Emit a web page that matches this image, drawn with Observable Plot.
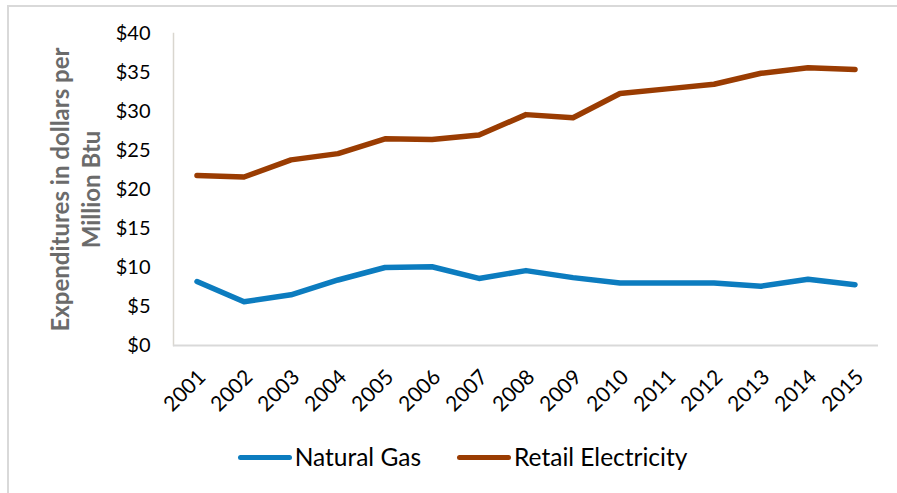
<!DOCTYPE html>
<html>
<head>
<meta charset="utf-8">
<script src="https://cdn.jsdelivr.net/npm/d3@7"></script>
<script src="https://cdn.jsdelivr.net/npm/@observablehq/plot@0.6"></script>
<style>
  html, body { margin: 0; padding: 0; background: #fff; }
  #chart {
    position: absolute; left: 7px; top: 5px; width: 900px; height: 500px;
    border-top: 2px solid #d9d9d9; border-left: 2px solid #d9d9d9;
    box-sizing: border-box;
  }
  #plot { position: absolute; left: -9px; top: -7px; }
  #legend {
    position: absolute; left: 5px; top: 435px; width: 897px;
    display: flex; justify-content: center; gap: 36px;
    font-family: Lato, sans-serif; font-size: 24.5px; color: #000;
  }
  .item { display: flex; align-items: center; }
  .swatch { width: 54px; height: 5px; border-radius: 3px; margin-right: 3px; margin-top: 2px; }
</style>
</head>
<body>
<div id="chart">
  <div id="plot"></div>
  <div id="legend"></div>
</div>
<script>
// Residential energy expenditures, dollars per million Btu
const years = ["2001","2002","2003","2004","2005","2006","2007","2008","2009","2010","2011","2012","2013","2014","2015"];
const naturalGas = [8.2, 5.6, 6.5, 8.4, 10.0, 10.1, 8.6, 9.6, 8.7, 8.0, 8.0, 8.0, 7.6, 8.5, 7.8];
const retailElectricity = [21.8, 21.6, 23.8, 24.6, 26.5, 26.4, 27.0, 29.6, 29.2, 32.3, 32.9, 33.5, 34.9, 35.6, 35.4];
const seriesNames = ["Natural Gas", "Retail Electricity"];
const seriesColors = ["#0c7cbf", "#9a3c02"];
const yTicks = [0, 5, 10, 15, 20, 25, 30, 35, 40];
const yLabel = ["Expenditures in dollars per", "Million Btu"];

const rows = [
  ...years.map((year, i) => ({year, value: naturalGas[i], series: seriesNames[0]})),
  ...years.map((year, i) => ({year, value: retailElectricity[i], series: seriesNames[1]}))
];

const chart = Plot.plot({
  width: 897,
  height: 430,
  marginLeft: 173,
  marginRight: 19,
  marginTop: 33,
  marginBottom: 85,
  style: { fontFamily: "Lato, sans-serif", fontSize: "20px", color: "#000", background: "transparent" },
  x: { type: "band", domain: years, padding: 0 },
  y: { domain: [0, 40] },
  color: { domain: seriesNames, range: seriesColors },
  marks: [
    Plot.frame({ anchor: "left", stroke: "#d9d6cf", strokeWidth: 1.5, strokeOpacity: 1 }),
    Plot.ruleY([0], { stroke: "#d9d9d9", strokeWidth: 2 }),
    Plot.axisY({ ticks: yTicks, tickSize: 0, tickPadding: 23, tickFormat: d => "$" + d, label: null, fontSize: 20 }),
    Plot.axisX({ tickSize: 0, tickPadding: 28, tickRotate: -45, label: null, fontSize: 21, dx: 5 }),
    Plot.text([yLabel.join("\n")], {
      frameAnchor: "left", rotate: -90, dx: -99, lineHeight: 1.3,
      fontSize: 24, fontWeight: "bold", fill: "#6b6b6b", textAnchor: "middle"
    }),
    Plot.line(rows, {
      x: "year", y: "value", z: "series", stroke: "series",
      strokeWidth: 5.5, strokeLinecap: "round", strokeLinejoin: "round"
    })
  ]
});
document.getElementById("plot").appendChild(chart);

const legend = document.getElementById("legend");
seriesNames.forEach((name, i) => {
  const item = document.createElement("div");
  item.className = "item";
  const sw = document.createElement("span");
  sw.className = "swatch";
  sw.style.background = seriesColors[i];
  const label = document.createElement("span");
  label.textContent = name;
  item.appendChild(sw);
  item.appendChild(label);
  legend.appendChild(item);
});
</script>
</body>
</html>
